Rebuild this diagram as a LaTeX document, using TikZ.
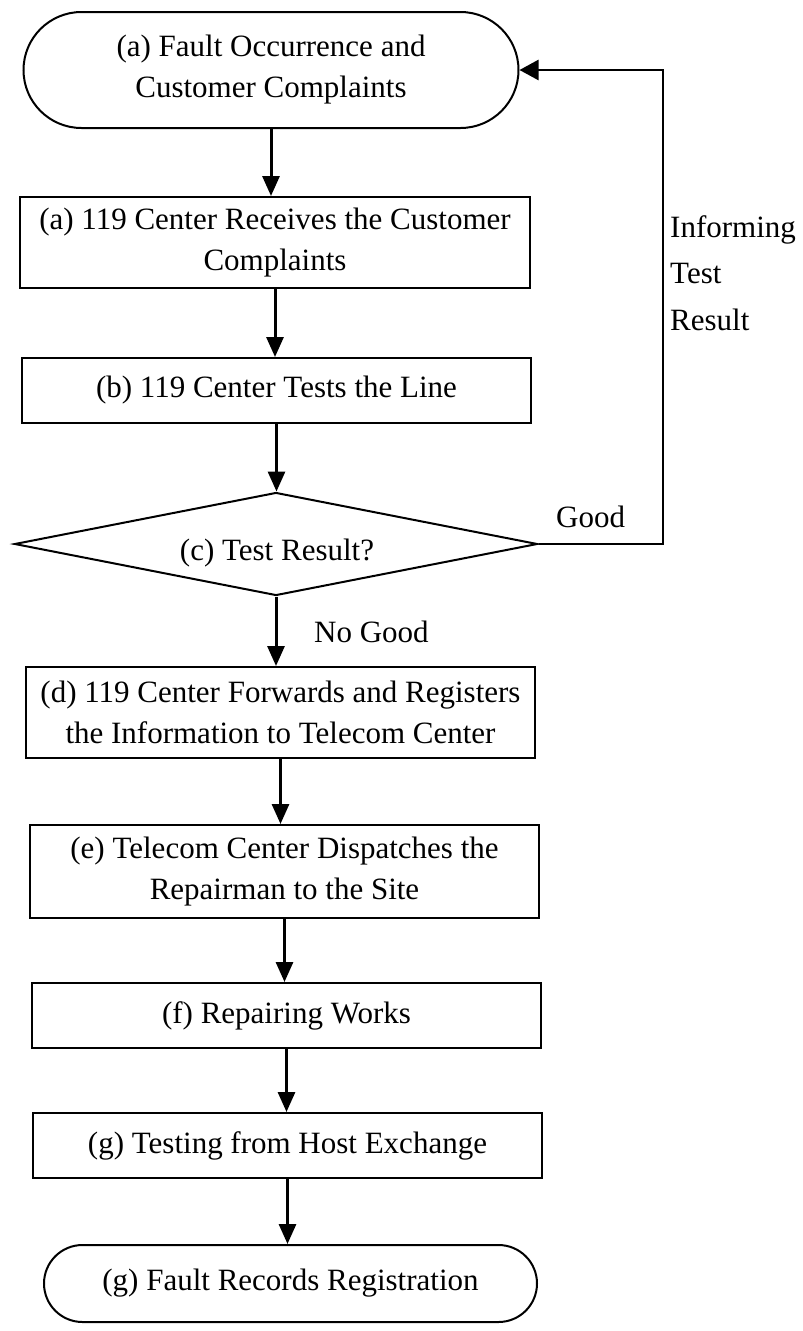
\documentclass[tikz,border=0pt]{standalone}
\usepackage{fontspec}
\setmainfont{Liberation Serif}
\usetikzlibrary{shapes.geometric,shapes.misc,arrows.meta}
\begin{document}
\begin{tikzpicture}[x=1pt,y=-1pt,
  txt/.style={font=\fontsize{31}{41}\selectfont, text=black},
  procbox/.style={txt, draw=black, line width=2pt, rectangle, inner sep=0pt, align=center},
  termbox/.style={txt, draw=black, line width=2pt, rounded rectangle, inner sep=0pt, align=center},
  decbox/.style={draw=black, line width=2pt, diamond, inner sep=0pt},
  flow/.style={draw=black, line width=3pt, -{Triangle[length=20pt,width=17pt]}},
  back/.style={draw=black, line width=2.5pt, -{Triangle[length=19pt,width=20pt]}},
  lbl/.style={txt, inner sep=0pt}]
\useasboundingbox[fill=white] (0,0) rectangle (803,1331);

% start terminator
\node[termbox, minimum width=495pt, minimum height=116pt] (t1) at (271,70)
  {(a) Fault Occurrence and\\Customer Complaints};

% process steps
\node[procbox, minimum width=510pt, minimum height=91pt] (a) at (275,242.5)
  {(a) 119 Center Receives the Customer\\Complaints};
\node[procbox, minimum width=509pt, minimum height=65pt] (b) at (276.5,390.5)
  {(b) 119 Center Tests the Line};

% decision
\node[decbox, minimum width=523pt, minimum height=103pt] (c) at (276,544) {};
\node[lbl] (ctext) at (277,553) {(c) Test Result?};

\node[procbox, minimum width=509pt, minimum height=91pt] (d) at (280.5,712.5)
  {(d) 119 Center Forwards and Registers\\the Information to Telecom Center};
\node[procbox, minimum width=509pt, minimum height=93pt] (e) at (284.5,871.5)
  {(e) Telecom Center Dispatches the\\Repairman to the Site};
\node[procbox, minimum width=509pt, minimum height=65pt] (f) at (286.5,1015.5)
  {(f) Repairing Works};
\node[procbox, minimum width=509pt, minimum height=65pt] (g) at (287.5,1145.5)
  {(g) Testing from Host Exchange};

% end terminator
\node[termbox, minimum width=493pt, minimum height=77pt] (t2) at (290.5,1283.5)
  {(g) Fault Records Registration};

% main flow
\draw[flow] (t1.south) -- (t1.south |- a.north);
\draw[flow] (a.south) -- (a.south |- b.north);
\draw[flow] (b.south) -- (b.south |- c.north);
\draw[flow] (c.south) -- (c.south |- d.north);
\draw[flow] (d.south) -- (d.south |- e.north);
\draw[flow] (e.south) -- (e.south |- f.north);
\draw[flow] (f.south) -- (f.south |- g.north);
\draw[flow] (g.south) -- (g.south |- t2.north);

% feedback loop when the test is good
\coordinate (fb) at (663,544);
\draw[back] (c.east) -- (fb) -- (fb |- t1.east) -- (t1.east);

% branch labels
\node[lbl, anchor=base west] (good) at (556,527) {Good};
\node[lbl, anchor=base west] (nogood) at (314,642) {No Good};
\node[lbl, anchor=base west] (inf1) at (670,237) {Informing};
\node[lbl, anchor=base west] (inf2) at (670,283) {Test};
\node[lbl, anchor=base west] (inf3) at (670,330) {Result};
\end{tikzpicture}
\end{document}
